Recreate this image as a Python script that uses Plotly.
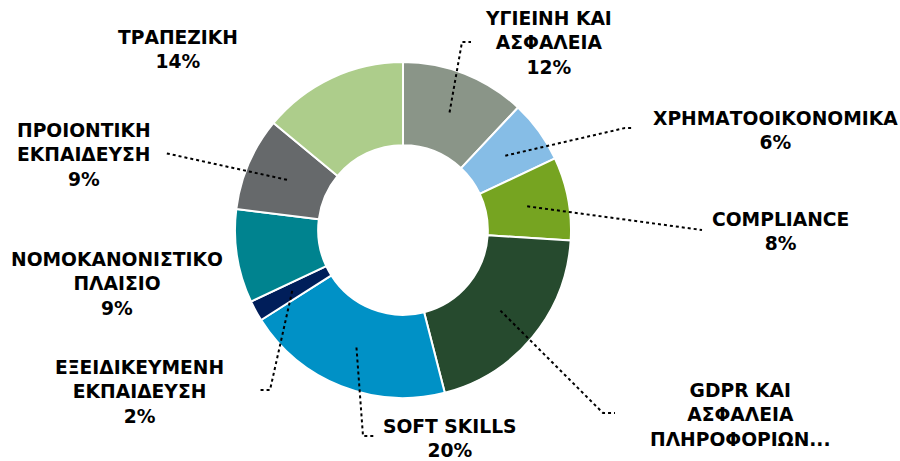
import math
import plotly.graph_objects as go

labels = ["ΥΓΙΕΙΝΗ ΚΑΙ<br>ΑΣΦΑΛΕΙΑ", "ΧΡΗΜΑΤΟΟΙΚΟΝΟΜΙΚΑ", "COMPLIANCE",
          "GDPR ΚΑΙ<br>ΑΣΦΑΛΕΙΑ<br>ΠΛΗΡΟΦΟΡΙΩΝ...", "SOFT SKILLS",
          "ΕΞΕΙΔΙΚΕΥΜΕΝΗ<br>ΕΚΠΑΙΔΕΥΣΗ", "ΝΟΜΟΚΑΝΟΝΙΣΤΙΚΟ<br>ΠΛΑΙΣΙΟ",
          "ΠΡΟΙΟΝΤΙΚΗ<br>ΕΚΠΑΙΔΕΥΣΗ", "ΤΡΑΠΕΖΙΚΗ"]
values = [12, 6, 8, 20, 20, 2, 9, 9, 14]
colors = ["#8A9588", "#86BDE6", "#76A421", "#264A2E", "#0091C6",
          "#001E5A", "#00838F", "#66696B", "#ADCD8B"]
# the GDPR label is truncated in the original, its percentage is not shown
show_pct = [True, True, True, False, True, True, True, True, True]

# label layout (pixel centres) and leader-line elbows (None = no leader)
label_pos = [(548, 43), (775, 130), (780, 231), (740, 415), (450, 438),
             (139, 392), (117, 284), (84, 155), (178, 50)]
elbows = [[(462, 42), (471, 42)], [(625, 128), (633, 128)], [(702, 230)],
          [(603, 413), (615, 413)], [(363, 436), (375, 436)],
          [(270, 390), (258, 390)], None, [(165, 153)], None]

W, H = 900, 461
cx, cy, R, hole = 403, 230, 168, 0.505

fig = go.Figure(go.Pie(
    labels=[l.replace("<br>", " ") for l in labels], values=values,
    marker=dict(colors=colors, line=dict(color="white", width=2)),
    hole=hole, sort=False, direction="clockwise", rotation=0,
    textinfo="none", hoverinfo="label+percent", showlegend=False,
    domain=dict(x=[(cx - R) / W, (cx + R) / W], y=[1 - (cy + R) / H, 1 - (cy - R) / H]),
))

total = sum(values)
cum = 0
annotations, shapes = [], []
for lab, v, sp, pos, elb in zip(labels, values, show_pct, label_pos, elbows):
    mid = (cum + v / 2) / total * 2 * math.pi
    cum += v
    pct = round(v / total * 100)
    txt = f"{lab}<br>{pct}%" if sp else lab
    annotations.append(dict(
        x=pos[0] / W, y=1 - pos[1] / H, xref="paper", yref="paper",
        text=f"<b>{txt}</b>", showarrow=False, xanchor="center", yanchor="middle",
        align="center", font=dict(family="DejaVu Sans", size=18.7, color="black")))
    if elb:
        rm = R * (1 + hole) / 2
        pts = [(cx + rm * math.sin(mid), cy - rm * math.cos(mid))] + elb
        path = "M " + " L ".join(f"{p[0] / W},{1 - p[1] / H}" for p in pts)
        shapes.append(dict(type="path", path=path, xref="paper", yref="paper",
                           line=dict(color="black", width=2, dash="dot")))

fig.update_layout(width=W, height=H, margin=dict(l=0, r=0, t=0, b=0),
                  paper_bgcolor="white", plot_bgcolor="white",
                  annotations=annotations, shapes=shapes)
fig.write_html("out.html", config={"displayModeBar": False},
               post_script="document.body.style.margin='0';")
